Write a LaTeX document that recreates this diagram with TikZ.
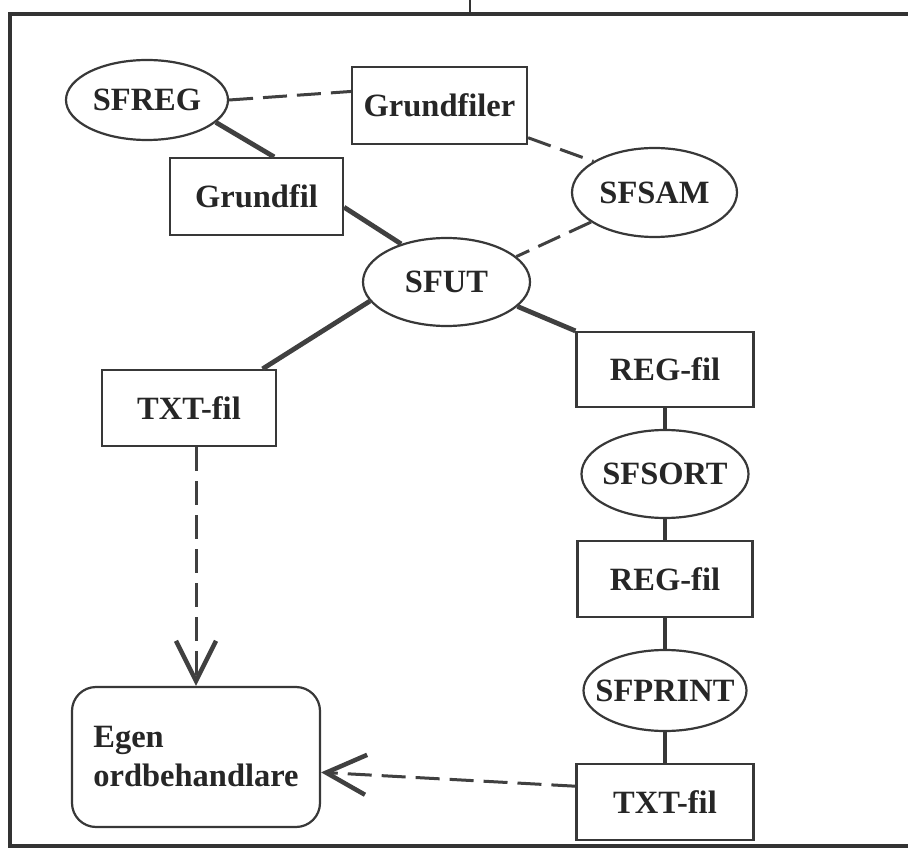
\documentclass[tikz,border=0pt]{standalone}
\usepackage{fontspec}
\setmainfont{Liberation Serif}
\usetikzlibrary{shapes.geometric,arrows.meta}
\begin{document}
\begin{tikzpicture}[x=1pt,y=-1pt,
  box/.style={draw=black!78, line width=2.2pt, rectangle, inner sep=0pt,
    minimum width=175pt, minimum height=77pt, text=black!85,
    font=\fontsize{32.5}{39}\selectfont\bfseries},
  oval/.style={box, ellipse, inner sep=-30pt},
  solidlink/.style={draw=black!75, line width=4.8pt},
  vlink/.style={draw=black!78, line width=4pt},
  dashlink/.style={draw=black!75, line width=3pt, dash pattern=on 24pt off 10pt},
  barb/.style={-{Straight Barb[length=40pt,width=40pt,line width=4.5pt]}},
  frame/.style={draw=black!80, line width=4.5pt, line join=miter},
]
\useasboundingbox[fill=white] (0,0) rectangle (908,850);

% frame
\coordinate (ftr) at (908,14);
\coordinate (ftl) at (10,14);
\coordinate (fbl) at (10,846);
\coordinate (fbr) at (908,846);
\draw[frame] (ftr) -- (ftl) -- (fbl) -- (fbr);
\coordinate (feedtop) at (470,0);
\coordinate (feedbot) at (470,14);
\draw[draw=black!80, line width=2pt] (feedtop) -- (feedbot);

% nodes
\node[oval, minimum width=162pt, minimum height=80pt] (sfreg) at (147,100) {SFREG};
\node[box] (grundfiler) at (439.5,105.5) {Grundfiler};
\node[box, minimum width=173pt] (grundfil) at (256.5,196.5) {Grundfil};
\node[oval, minimum width=165pt, minimum height=89pt] (sfsam) at (654.5,192.5) {SFSAM};
\node[oval, minimum width=167pt, minimum height=88pt] (sfut) at (446.5,282) {SFUT};
\node[box, minimum width=174pt, minimum height=76pt] (txt1) at (189,408) {TXT-fil};
\node[box, minimum width=177pt, minimum height=75pt] (reg1) at (665,369.5) {REG-fil};
\node[oval, minimum width=167pt, minimum height=88pt] (sfsort) at (665,474) {SFSORT};
\node[box, minimum height=76pt] (reg2) at (665,579) {REG-fil};
\node[oval, minimum width=163pt, minimum height=81pt] (sfprint) at (665,690.5) {SFPRINT};
\node[box, minimum width=177pt, minimum height=76pt] (txt2) at (665,802) {TXT-fil};
\node[box, rounded corners=24pt, minimum width=248pt, minimum height=140pt,
      align=left, font=\fontsize{32.5}{39}\selectfont\bfseries] (egen) at (196,757)
      {Egen\\ordbehandlare};

% connectors
\draw[dashlink] (sfreg.east) -- (grundfiler.171);
\draw[solidlink] (sfreg.-18) -- (grundfil.66);
\draw[solidlink] (grundfil.-7) -- (sfut.140);
\draw[dashlink] (grundfiler.-20) -- (sfsam.153);
\draw[dashlink] (sfsam.205) -- (sfut.20);
\draw[solidlink] (sfut.194) -- (txt1.28.5);
\draw[solidlink] (sfut.-19) -- (reg1.north west);
\draw[vlink] (reg1) -- (sfsort);
\draw[vlink] (sfsort) -- (reg2);
\draw[vlink] (reg2) -- (sfprint);
\draw[vlink] (sfprint) -- (txt2);
\draw[dashlink, barb] (egen.north |- txt1.south) -- (egen.north);
\draw[dashlink, barb] (txt2.170) -- (egen.-7);
\end{tikzpicture}
\end{document}
